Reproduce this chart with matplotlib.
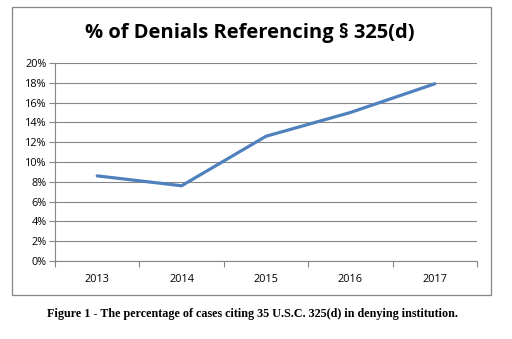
import matplotlib.pyplot as plt
import numpy as np
from matplotlib.patches import Rectangle
from matplotlib.ticker import FixedLocator, NullFormatter

years = ["2013", "2014", "2015", "2016", "2017"]
pct = [8.6, 7.6, 12.6, 15.0, 17.9]
y_ticks = [0, 2, 4, 6, 8, 10, 12, 14, 16, 18, 20]

title = "% of Denials Referencing § 325(d)"
caption = "Figure 1 - The percentage of cases citing 35 U.S.C. 325(d) in denying institution."

fig = plt.figure(figsize=(5.12, 3.39), dpi=100)
fig.patch.set_facecolor("white")

W, H = 512, 339
# chart border box
fig.patches.append(Rectangle((12 / W, 1 - 295 / H), 479 / W, 288 / H,
                             transform=fig.transFigure, fill=False,
                             edgecolor="#868686", linewidth=0.9))

ax = fig.add_axes([55 / W, 1 - 261 / H, 422 / W, 198 / H])
x = np.arange(len(years))
ax.plot(x, pct, color="#4F81BD", linewidth=2.3, solid_capstyle="round")

ax.set_xlim(-0.5, len(years) - 0.5)
ax.set_ylim(0, 20)
ax.set_yticks(y_ticks)
ax.set_yticklabels([f"{v}%" for v in y_ticks], fontsize=7.8, family="Open Sans")
ax.yaxis.grid(True, color="#868686", linewidth=0.8)
ax.set_axisbelow(True)

ax.xaxis.set_major_locator(FixedLocator(np.arange(-0.5, len(years), 1.0)))
ax.xaxis.set_major_formatter(NullFormatter())
ax.xaxis.set_minor_locator(FixedLocator(x))
ax.set_xticklabels(years, minor=True, fontsize=7.8, family="Open Sans")
ax.tick_params(axis="x", which="major", length=4, color="#868686", width=0.8)
ax.tick_params(axis="x", which="minor", length=0, pad=9)
ax.tick_params(axis="y", length=4, color="#868686", width=0.8, pad=2)

for side in ["top", "right"]:
    ax.spines[side].set_visible(False)
for side in ["left", "bottom"]:
    ax.spines[side].set_color("#868686")
    ax.spines[side].set_linewidth(0.8)

fig.text(250 / W, 1 - 33 / H, title, ha="center", va="center",
         fontsize=14.5, fontweight="bold", family="Open Sans")
fig.text(252 / W, 1 - 314 / H, caption, ha="center", va="center",
         fontsize=8.7, fontweight="bold", family="Liberation Serif")

fig.savefig("out.png", dpi=100, facecolor="white")
